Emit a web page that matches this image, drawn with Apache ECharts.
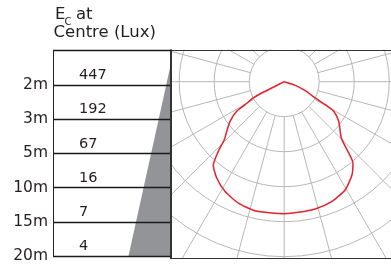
<!DOCTYPE html>
<html>
<head>
<meta charset="utf-8">
<script src="https://cdn.jsdelivr.net/npm/echarts@6/dist/echarts.min.js"></script>
<style>html,body{margin:0;padding:0;background:#fff}#c{width:391px;height:264px}</style>
</head>
<body>
<div id="c"></div>
<script>
// ---- data ----
const distances = ['20m', '15m', '10m', '5m', '3m', '2m'];
const luxValues = [4, 7, 16, 67, 192, 447];
// beam cone shown in the table: row height (rows from bottom) and cone width
const coneRows = [5.56, 0];
const coneWidth = [0, 42];
// polar light distribution: angle from downward vertical (deg, left negative) and intensity radius
const curveAngles = [-63.5, -63.3, -63.3, -62.2, -59.6, -58.1, -53.8, -49.2, -45.9, -43.4, -40.3, -35, -28.4, -20.7, -12.8, -5.4, 0,
  6.3, 13.7, 21.8, 29.5, 36.1, 40.2, 42.7, 45.4, 54, 59.1, 60.8, 62.4, 66.9, 72, 75];
const curveIntensity = [0, 14, 25.2, 34.9, 45.4, 56, 67.1, 75.9, 83.4, 95.9, 109.6, 117.6, 124.6, 129.7, 132.3, 131.9, 132,
  131.4, 131, 128.8, 124.1, 115.1, 106.5, 92.6, 80.2, 67.4, 57.7, 47.1, 35.1, 22.9, 11.7, 0];
const gridRadii = [35, 210, 35];     // inner, outer, step
const gridAngleStep = 15;

const chart = echarts.init(document.getElementById('c'), null, {renderer: 'canvas'});
const TXT = '#231f20';
const FONT = '"DejaVu Sans", sans-serif';
const catsLeft = distances.concat(['']);
const catsLux = luxValues.map(String).concat(['']);
const center = [284.2, 81.7];

const option = {
  backgroundColor: '#ffffff',
  animation: false,
  grid: [
    {left: 53, right: 220.5, top: 50.5, bottom: 5.7},
    {left: 170.5, right: 0, top: 50, bottom: 5.7}
  ],
  xAxis: [
    {gridIndex: 0, type: 'value', inverse: true, min: 0, max: 117.5, show: false},
    {gridIndex: 1, type: 'value', min: 0, max: 1, position: 'bottom', z: 5,
      axisLine: {show: true, onZero: false, lineStyle: {color: '#333', width: 1.2}}, axisTick: {show: false}, axisLabel: {show: false}, splitLine: {show: false}},
    {gridIndex: 1, type: 'value', min: 0, max: 1, position: 'top', z: 5,
      axisLine: {show: true, onZero: false, lineStyle: {color: '#333', width: 1.2}}, axisTick: {show: false}, axisLabel: {show: false}, splitLine: {show: false}}
  ],
  yAxis: [
    {gridIndex: 0, type: 'category', data: catsLeft, boundaryGap: false, position: 'left', z: 5,
      axisLine: {show: true, onZero: false, lineStyle: {color: '#222', width: 1}}, axisTick: {show: false},
      axisLabel: {color: TXT, fontFamily: FONT, fontSize: 15.5, margin: 5, interval: 0},
      splitLine: {show: true, lineStyle: {color: '#1a1a1a', width: 1.3}}},
    {gridIndex: 0, type: 'category', data: catsLux, boundaryGap: false, position: 'left', z: 5,
      axisLine: {show: false, onZero: false}, axisTick: {show: false},
      axisLabel: {inside: true, color: TXT, fontFamily: FONT, fontSize: 14.5, margin: 26, interval: 0,
        verticalAlign: 'bottom', padding: [0, 0, 2, 0]},
      splitLine: {show: false}},
    {gridIndex: 0, type: 'value', min: 0, max: 6, show: false},
    {gridIndex: 1, type: 'value', min: 0, max: 1, position: 'left', z: 5,
      axisLine: {show: true, onZero: false, lineStyle: {color: '#333', width: 2}}, axisTick: {show: false}, axisLabel: {show: false}, splitLine: {show: false}}
  ],
  polar: [
    {center: center, radius: [gridRadii[0], gridRadii[1]]},
    {center: center, radius: gridRadii[1]}
  ],
  radiusAxis: [
    {polarIndex: 0, type: 'value', min: gridRadii[0], max: gridRadii[1], interval: gridRadii[2],
      axisLine: {show: false}, axisTick: {show: false}, axisLabel: {show: false},
      splitLine: {show: true, lineStyle: {color: '#b7b7b7', width: 1}}},
    {polarIndex: 1, type: 'value', min: 0, max: gridRadii[1], show: false}
  ],
  angleAxis: [
    {polarIndex: 0, type: 'value', min: 0, max: 360, interval: gridAngleStep, startAngle: 90,
      axisLine: {show: false}, axisTick: {show: false}, axisLabel: {show: false},
      splitLine: {show: true, lineStyle: {color: '#b7b7b7', width: 1}}},
    {polarIndex: 1, type: 'value', min: -180, max: 180, startAngle: 90, clockwise: false, show: false}
  ],
  graphic: {elements: [
    {type: 'rect', z: 1, silent: true, shape: {x: 0, y: 0, width: 170, height: 264}, style: {fill: '#fff'}},
    {type: 'rect', z: 1, silent: true, shape: {x: 0, y: 0, width: 391, height: 49.5}, style: {fill: '#fff'}},
    {type: 'rect', z: 1, silent: true, shape: {x: 0, y: 259, width: 391, height: 6}, style: {fill: '#fff'}},
    {type: 'text', z: 10, x: 55, y: 6.5, style: {text: 'E', font: '16.5px ' + FONT, fill: TXT, verticalAlign: 'top'}},
    {type: 'text', z: 10, x: 64.5, y: 17, style: {text: 'C', font: '10px ' + FONT, fill: TXT, verticalAlign: 'top'}},
    {type: 'text', z: 10, x: 76, y: 6.5, style: {text: 'at', font: '16.5px ' + FONT, fill: TXT, verticalAlign: 'top'}},
    {type: 'text', z: 10, x: 53.5, y: 24.5, style: {text: 'Centre (Lux)', font: '16.5px ' + FONT, fill: TXT, verticalAlign: 'top'}}
  ]},
  series: [
    {type: 'line', xAxisIndex: 0, yAxisIndex: 2, z: 3, showSymbol: false, silent: true,
      data: coneRows.map((r, i) => [coneWidth[i], r]),
      lineStyle: {width: 0}, areaStyle: {color: '#929497', opacity: 1}},
    {type: 'line', coordinateSystem: 'polar', polarIndex: 1, z: 4, showSymbol: false, silent: true, smooth: 0.2,
      data: curveAngles.map((a, i) => [curveIntensity[i], a]),
      lineStyle: {color: '#e8202a', width: 1.5}}
  ]
};
chart.setOption(option);
</script>
</body>
</html>
